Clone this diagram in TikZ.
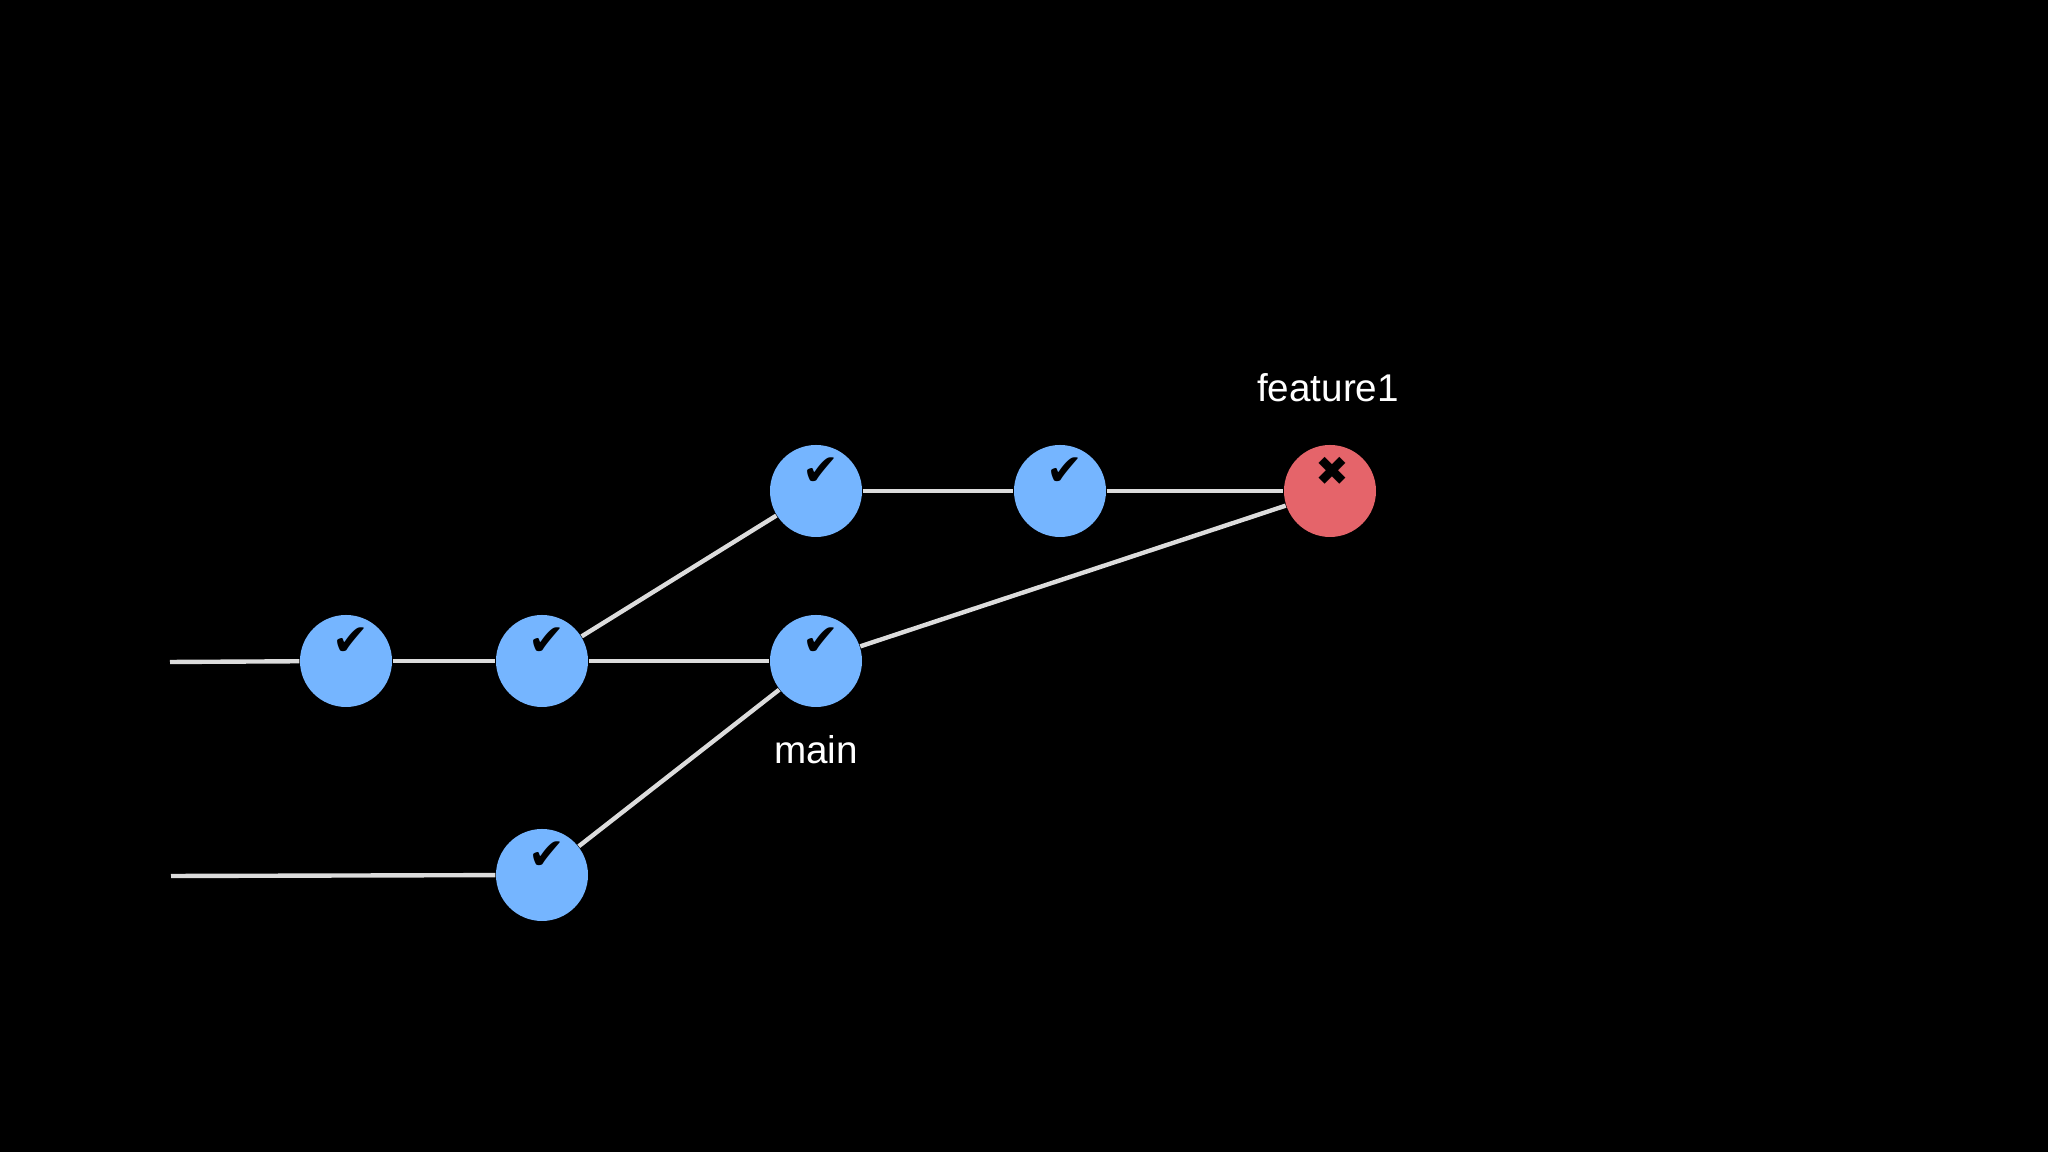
\documentclass[tikz,border=0pt]{standalone}
\usepackage{fontspec}
\setmainfont{Liberation Sans}
\newfontfamily\symfont{DejaVu Sans}
\definecolor{passblue}{HTML}{75B5FF}
\definecolor{failred}{HTML}{E5646A}
\definecolor{linkgray}{HTML}{DCDCDC}
\usetikzlibrary{positioning}
\begin{document}
\begin{tikzpicture}[font=\fontsize{11}{13}\selectfont,
  commit/.style={circle, inner sep=0pt, minimum size=9.2mm},
  pass/.style={commit, fill=passblue, label={[xshift=.5mm, yshift=1.9mm, inner sep=0pt, text=black]center:{\symfont\fontsize{12.5}{14}\selectfont ✔}}},
  fail/.style={commit, fill=failred, label={[xshift=.2mm, yshift=2.0mm, inner sep=0pt, text=black]center:{\symfont\fontsize{11.5}{13}\selectfont ✖}}},
  link/.style={draw=linkgray, line width=1.25pt},
  tag/.style={text=white, inner sep=0pt}]
\fill[black] (0,0) rectangle (20.48,11.52);
\useasboundingbox (0,0) rectangle (20.48,11.52);
\coordinate (start)  at (1.70,4.90);
\coordinate (startb) at (1.71,2.76);
\node[pass] (first)   at (3.46,4.91)  {};
\node[pass] (second)  at (5.42,4.91)  {};
\node[pass] (lower)   at (5.42,2.77)  {};
\node[pass] (mainc)   at (8.16,4.91)  {};
\node[pass] (branch)  at (8.16,6.61)  {};
\node[pass] (next)    at (10.60,6.61) {};
\node[fail] (feature) at (13.30,6.61) {};
\node[tag]  (mainl)   at (8.16,4.02)  {main};
\node[tag]  (featl)   at (13.28,7.64) {feature1};
\draw[link] (start) -- (first);
\draw[link] (first) -- (second);
\draw[link] (second) -- (mainc);
\draw[link] (second) -- (branch);
\draw[link] (startb) -- (lower);
\draw[link] (lower) -- (mainc);
\draw[link] (branch) -- (next);
\draw[link] (next) -- (feature);
\draw[link] (mainc) -- (feature);
\end{tikzpicture}
\end{document}
